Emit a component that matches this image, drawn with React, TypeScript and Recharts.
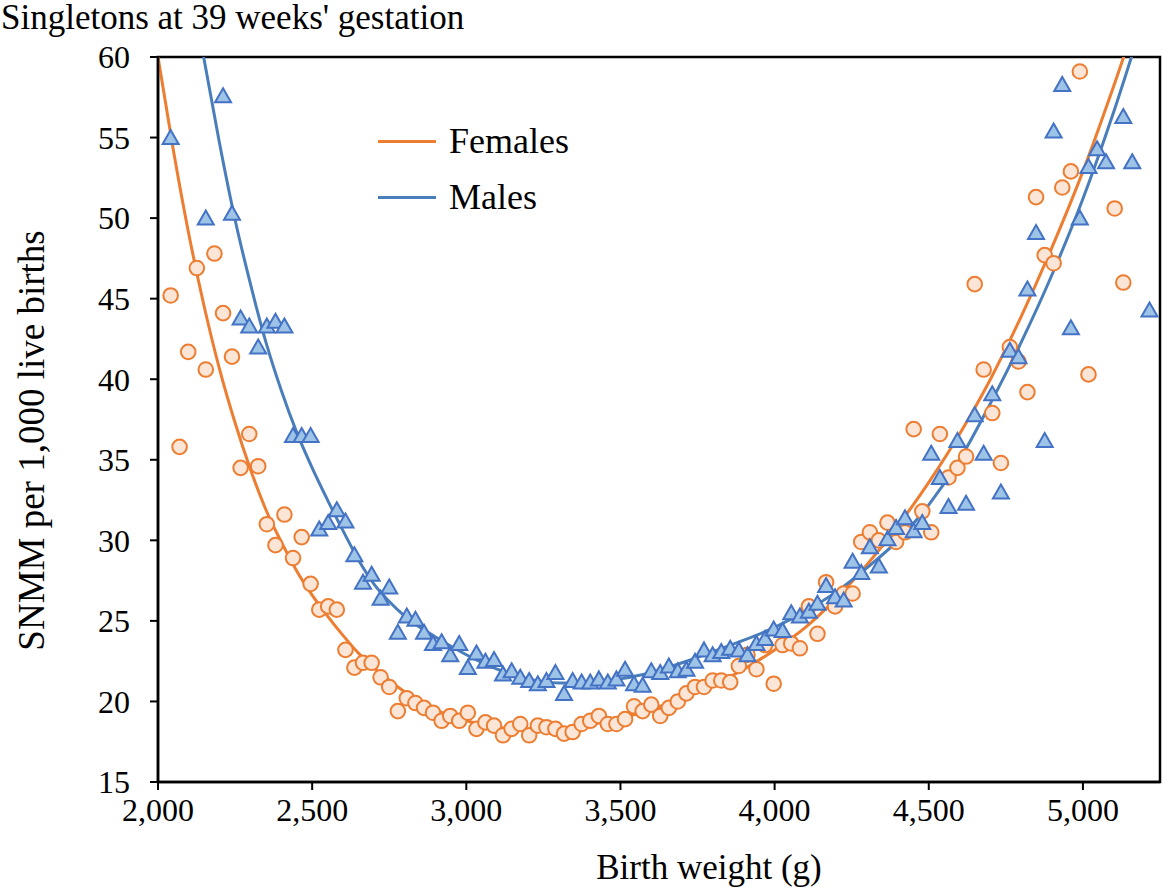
import React from 'react'
import {
  ComposedChart,
  Scatter,
  Line,
  XAxis,
  YAxis,
  Legend,
  ReferenceArea,
  Label,
} from 'recharts'

const FONT = '"Liberation Serif", "Times New Roman", serif'

// birth weight bins (1 oz steps), in grams
const birthWeights = [
  2041, 2070, 2098, 2126, 2155, 2183, 2211, 2240, 2268, 2296,
  2325, 2353, 2381, 2410, 2438, 2466, 2495, 2523, 2552, 2580,
  2608, 2637, 2665, 2693, 2722, 2750, 2778, 2807, 2835, 2863,
  2892, 2920, 2948, 2977, 3005, 3033, 3062, 3090, 3119, 3147,
  3175, 3204, 3232, 3260, 3289, 3317, 3345, 3374, 3402, 3430,
  3459, 3487, 3515, 3544, 3572, 3600, 3629, 3657, 3686, 3714,
  3742, 3771, 3799, 3827, 3856, 3884, 3912, 3941, 3969, 3997,
  4026, 4054, 4082, 4111, 4139, 4167, 4196, 4224, 4253, 4281,
  4309, 4338, 4366, 4394, 4423, 4451, 4479, 4508, 4536, 4564,
  4593, 4621, 4649, 4678, 4706, 4734, 4763, 4791, 4820, 4848,
  4876, 4905, 4933, 4961, 4990, 5018, 5046, 5075, 5103, 5131,
  5160, 5188, 5216,
]

// SNMM per 1,000 live births, same order as birthWeights
const femaleRates = [
  45.2, 35.8, 41.7, 46.9, 40.6, 47.8, 44.1, 41.4, 34.5, 36.6,
  34.6, 31.0, 29.7, 31.6, 28.9, 30.2, 27.3, 25.7, 25.9, 25.7,
  23.2, 22.1, 22.4, 22.4, 21.5, 20.9, 19.4, 20.2, 19.9, 19.6,
  19.3, 18.8, 19.1, 18.8, 19.3, 18.3, 18.7, 18.5, 17.9, 18.3,
  18.6, 17.9, 18.5, 18.4, 18.3, 18.0, 18.1, 18.6, 18.8, 19.1,
  18.6, 18.6, 18.9, 19.7, 19.4, 19.8, 19.1, 19.6, 20.0, 20.5,
  20.9, 20.9, 21.3, 21.3, 21.2, 22.2, 22.9, 22.0, 23.5, 21.1,
  23.5, 23.6, 23.3, 25.9, 24.2, 27.4, 25.9, 26.7, 26.7, 29.9,
  30.5, 30.0, 31.1, 29.9, 30.5, 36.9, 31.8, 30.5, 36.6, 33.9,
  34.5, 35.2, 45.9, 40.6, 37.9, 34.8, 42.0, 41.1, 39.2, 51.3,
  47.7, 47.2, 51.9, 52.9, 59.1, 40.3, null, null, 50.6, 46.0,
  null, null, null,
]

const maleRates = [
  55.0, null, null, null, 50.0, null, 57.6, 50.3, 43.8, 43.3,
  42.0, 43.3, 43.6, 43.3, 36.5, 36.5, 36.5, 30.7, 31.1, 31.9,
  31.2, 29.1, 27.4, 27.9, 26.4, 27.1, 24.3, 25.3, 25.1, 24.3,
  23.6, 23.7, 22.9, 23.6, 22.1, 23.0, 22.5, 22.6, 21.7, 21.9,
  21.5, 21.3, 21.1, 21.3, 21.8, 20.5, 21.3, 21.2, 21.2, 21.4,
  21.2, 21.4, 22.0, 21.1, 21.0, 21.9, 21.8, 22.2, 21.9, 22.0,
  22.5, 23.2, 22.9, 23.1, 23.3, 23.2, 22.9, 23.6, 23.9, 24.5,
  24.4, 25.5, 25.3, 25.6, 26.1, 27.2, 26.5, 26.3, 28.7, 28.0,
  29.6, 28.4, 30.1, 30.8, 31.4, 30.6, 31.1, 35.4, 33.9, 32.1,
  36.2, 32.3, 37.8, 35.4, 39.1, 33.0, 41.8, 41.4, 45.6, 49.1,
  36.2, 55.4, 58.3, 43.2, 50.0, 53.2, 54.3, 53.5, null, 56.3,
  53.5, null, 44.3,
]

// fitted trend lines
const trendWeights = [
  2000, 2050, 2100, 2150, 2200, 2250, 2300, 2350, 2400, 2450,
  2500, 2550, 2600, 2650, 2700, 2750, 2800, 2900, 3000, 3100,
  3200, 3300, 3400, 3500, 3600, 3700, 3800, 3900, 4000, 4100,
  4200, 4300, 4400, 4500, 4600, 4700, 4800, 4900, 5000, 5100,
  5200,
]
const femaleTrend = [
  60.0, 54.2, 49.0, 44.5, 40.6, 37.3, 34.4, 31.9, 29.9, 28.1,
  26.6, 25.3, 24.1, 23.0, 22.1, 21.3, 20.6, 19.5, 18.8, 18.4,
  18.25, 18.3, 18.55, 18.95, 19.5, 20.2, 21.0, 22.0, 23.2, 24.6,
  26.4, 28.5, 30.9, 33.6, 36.6, 40.0, 43.9, 48.2, 52.9, 58.2,
  63.8,
]
const maleTrend = [
  null, null, 65.5, 59.8, 54.6, 49.9, 45.9, 42.3, 39.3, 36.7,
  34.5, 32.5, 30.6, 28.8, 27.3, 26.2, 25.3, 24.0, 22.9, 22.0,
  21.4, 21.15, 21.15, 21.4, 21.8, 22.4, 23.1, 23.8, 24.6, 25.6,
  26.8, 28.3, 30.0, 32.2, 35.0, 38.5, 42.3, 46.5, 51.2, 56.6,
  62.6,
]

const xTicks = [2000, 2500, 3000, 3500, 4000, 4500, 5000]
const yTicks = [15, 20, 25, 30, 35, 40, 45, 50, 55, 60]

const femalePoints = birthWeights
  .map((w, i) => ({ weight: w, rate: femaleRates[i] }))
  .filter((p) => p.rate != null)
const malePoints = birthWeights
  .map((w, i) => ({ weight: w, rate: maleRates[i] }))
  .filter((p) => p.rate != null)
const femaleLine = trendWeights
  .map((w, i) => ({ weight: w, rate: femaleTrend[i] }))
  .filter((p) => p.rate != null)
const maleLine = trendWeights
  .map((w, i) => ({ weight: w, rate: maleTrend[i] }))
  .filter((p) => p.rate != null)

const ORANGE = '#ED7D31'
const BLUE = '#4A7EBB'

const CircleMarker = (props: any) => (
  <circle cx={props.cx} cy={props.cy} r={7.3} fill="#FBE5D6" stroke={ORANGE} strokeWidth={2} />
)

const TriangleMarker = (props: any) => {
  const { cx, cy } = props
  const pts = `${cx},${cy - 7.5} ${cx + 8},${cy + 6.5} ${cx - 8},${cy + 6.5}`
  return <polygon points={pts} fill="#9DC3E6" stroke="#4472C4" strokeWidth={2} strokeLinejoin="miter" />
}

const LegendBox = () => (
  <div style={{ fontFamily: FONT, fontSize: 36, color: '#000', lineHeight: '56px' }}>
    {[
      { name: 'Females', color: ORANGE },
      { name: 'Males', color: BLUE },
    ].map((item) => (
      <div key={item.name} style={{ display: 'flex', alignItems: 'center', height: 56 }}>
        <span style={{ display: 'inline-block', width: 58, height: 3, background: item.color, marginRight: 13 }} />
        <span>{item.name}</span>
      </div>
    ))}
  </div>
)

const tickStyle = { fontSize: 32, fill: '#000', fontFamily: FONT }

export default function App() {
  return (
    <div style={{ position: 'absolute', left: 0, top: 0, width: 1163, height: 888, background: '#fff' }}>
      <div
        style={{
          position: 'absolute',
          left: 1,
          top: 1,
          fontFamily: FONT,
          fontSize: 35,
          lineHeight: '34px',
          color: '#000',
          whiteSpace: 'nowrap',
        }}
      >
        Singletons at 39 weeks' gestation
      </div>
      <ComposedChart width={1163} height={888} margin={{ top: 57, right: 3, bottom: 0, left: 0 }}>
        <XAxis
          type="number"
          dataKey="weight"
          domain={[2000, 5250]}
          ticks={xTicks}
          allowDataOverflow
          tickFormatter={(v: number) => v.toLocaleString('en-US')}
          tick={tickStyle}
          tickSize={8}
          tickMargin={8}
          height={106}
          axisLine={{ stroke: '#000', strokeWidth: 2.5 }}
          tickLine={{ stroke: '#000', strokeWidth: 2 }}
        >
          <Label
            value="Birth weight (g)"
            position="insideBottom"
            offset={9}
            dx={50}
            style={{ fontSize: 35, fill: '#000', fontFamily: FONT }}
          />
        </XAxis>
        <YAxis
          type="number"
          dataKey="rate"
          domain={[15, 60]}
          ticks={yTicks}
          allowDataOverflow
          tick={tickStyle}
          tickSize={8}
          tickMargin={20}
          width={158}
          axisLine={{ stroke: '#000', strokeWidth: 2.5 }}
          tickLine={{ stroke: '#000', strokeWidth: 2 }}
        >
          <Label
            value="SNMM per 1,000 live births"
            angle={-90}
            position="insideLeft"
            offset={31}
            dy={21}
            style={{ fontSize: 37, fill: '#000', fontFamily: FONT, textAnchor: 'middle' }}
          />
        </YAxis>
        <ReferenceArea
          x1={2000}
          x2={5250}
          y1={15}
          y2={60}
          fill="none"
          stroke="#000"
          strokeWidth={2.5}
          ifOverflow="visible"
        />
        <Line
          data={femaleLine}
          dataKey="rate"
          name="Females"
          type="monotone"
          stroke={ORANGE}
          strokeWidth={3}
          dot={false}
          activeDot={false}
          isAnimationActive={false}
        />
        <Line
          data={maleLine}
          dataKey="rate"
          name="Males"
          type="monotone"
          stroke={BLUE}
          strokeWidth={3}
          dot={false}
          activeDot={false}
          isAnimationActive={false}
        />
        <Scatter data={femalePoints} dataKey="rate" shape={CircleMarker} isAnimationActive={false} />
        <Scatter data={malePoints} dataKey="rate" shape={TriangleMarker} isAnimationActive={false} />
        <Legend
          content={() => <LegendBox />}
          layout="horizontal"
          verticalAlign="middle"
          align="center"
          wrapperStyle={{ left: 378, top: 113, width: 'auto' }}
        />
      </ComposedChart>
    </div>
  )
}
